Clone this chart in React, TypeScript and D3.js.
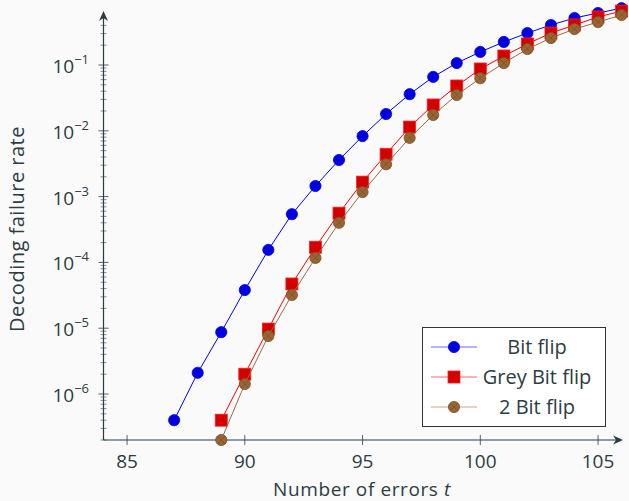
import React from 'react';
import * as d3 from 'd3';

// number of errors t for each series
const tBitFlip = [87, 88, 89, 90, 91, 92, 93, 94, 95, 96, 97, 98, 99, 100, 101, 102, 103, 104, 105, 106];
const tGrey = [89, 90, 91, 92, 93, 94, 95, 96, 97, 98, 99, 100, 101, 102, 103, 104, 105, 106];
const tTwoBit = [89, 90, 91, 92, 93, 94, 95, 96, 97, 98, 99, 100, 101, 102, 103, 104, 105, 106];

// decoding failure rates
const bitFlip = [4.0e-7, 2.1e-6, 8.7e-6, 3.8e-5, 1.55e-4, 5.4e-4, 1.45e-3, 3.6e-3, 8.3e-3, 1.8e-2, 3.6e-2, 6.6e-2, 0.107, 0.158, 0.224, 0.306, 0.405, 0.518, 0.617, 0.73];
const greyBitFlip = [4.0e-7, 2.0e-6, 9.7e-6, 4.7e-5, 1.7e-4, 5.6e-4, 1.66e-3, 4.4e-3, 1.14e-2, 2.47e-2, 4.8e-2, 8.7e-2, 0.137, 0.209, 0.306, 0.405, 0.537, 0.66];
const twoBitFlip = [2.0e-7, 1.42e-6, 7.6e-6, 3.2e-5, 1.17e-4, 4.0e-4, 1.17e-3, 3.1e-3, 7.8e-3, 1.74e-2, 3.5e-2, 6.3e-2, 0.107, 0.175, 0.257, 0.352, 0.45, 0.575];

const xTicks = [85, 90, 95, 100, 105];
const yMajor = [1e-6, 1e-5, 1e-4, 1e-3, 1e-2, 1e-1];
const yExponents = ['−6', '−5', '−4', '−3', '−2', '−1'];
const legendLabels = ['Bit flip', 'Grey Bit flip', '2 Bit flip'];

const W = 629;
const H = 501;
const ink = '#2b3d41';
const font = "'Open Sans', 'Noto Sans', sans-serif";

const x = d3.scaleLinear().domain([84, 106]).range([103.5, 621.6]);
const y = d3.scaleLog().domain([2e-7, 1e-1]).range([440, 65]);
const yAxisTop = 0.45;

const series = [
  { name: legendLabels[0], t: tBitFlip, v: bitFlip, line: '#0000ff', fill: '#0000dd', stroke: '#0000ff', mark: 'circle' },
  { name: legendLabels[1], t: tGrey, v: greyBitFlip, line: '#ff0000', fill: '#d40000', stroke: '#ff2020', mark: 'square' },
  { name: legendLabels[2], t: tTwoBit, v: twoBitFlip, line: '#9a6b3d', fill: '#996633', stroke: '#7a5129', mark: 'otimes' },
];

const Marker = ({ kind, cx, cy, fill, stroke }: any) => {
  if (kind === 'circle') {
    return <circle cx={cx} cy={cy} r={5.6} fill={fill} stroke={stroke} strokeWidth={0.8} />;
  }
  if (kind === 'square') {
    return <rect x={cx - 6} y={cy - 6} width={12} height={12} fill={fill} stroke={stroke} strokeWidth={0.8} />;
  }
  const d = 5.6 * Math.SQRT1_2;
  return (
    <g>
      <circle cx={cx} cy={cy} r={5.6} fill={fill} stroke={stroke} strokeWidth={0.8} />
      <path d={`M${cx - d},${cy - d}L${cx + d},${cy + d}M${cx - d},${cy + d}L${cx + d},${cy - d}`} stroke={stroke} strokeWidth={0.8} />
    </g>
  );
};

export default function App() {
  const x0 = x(84);
  const yBase = y(2e-7);
  const minorTicks = y.copy().domain([2e-7, yAxisTop]).ticks();
  const line = d3.line<[number, number]>().x(d => x(d[0])).y(d => y(d[1]));

  return (
    <svg width={W} height={H} style={{ position: 'absolute', left: 0, top: 0, fontFamily: font }}>
      <rect width={W} height={H} fill="#fafafa" />

      {/* y ticks */}
      {minorTicks.map((t, i) => {
        const major = yMajor.some(m => Math.abs(m - t) / m < 1e-6);
        const len = major ? 5 : 3;
        return (
          <line key={i} x1={x0 - len} x2={x0 + len} y1={y(t)} y2={y(t)}
            stroke={ink} strokeOpacity={major ? 1 : 0.7} strokeWidth={0.8} />
        );
      })}
      {yMajor.map((t, i) => (
        <text key={i} x={89} y={y(t) + 8} textAnchor="end" fill={ink} fontSize={19}>
          10<tspan dy={-9} fontSize={13}>{yExponents[i]}</tspan>
        </text>
      ))}

      {/* x ticks */}
      {xTicks.map(t => (
        <g key={t}>
          <line x1={x(t)} x2={x(t)} y1={yBase - 5} y2={yBase + 5} stroke={ink} strokeWidth={0.8} />
          <text x={x(t)} y={468} textAnchor="middle" fill={ink} fontSize={19}>{t}</text>
        </g>
      ))}

      {/* axis lines with arrows */}
      <line x1={x0} x2={x0} y1={yBase} y2={15} stroke={ink} strokeWidth={1.2} />
      <path d={`M${x0},11 L${x0 - 4.5},21 L${x0},18 L${x0 + 4.5},21 Z`} fill={ink} />
      <line x1={x0} x2={619} y1={yBase} y2={yBase} stroke={ink} strokeWidth={1.2} />
      <path d={`M623,${yBase} L613,${yBase - 4.5} L616,${yBase} L613,${yBase + 4.5} Z`} fill={ink} />

      {/* series */}
      {series.map(s => {
        const pts = s.t.map((t, i) => [t, s.v[i]] as [number, number]);
        return (
          <g key={s.name}>
            <path d={line(pts) || ''} fill="none" stroke={s.line} strokeWidth={1} />
            {pts.map((p, i) => (
              <Marker key={i} kind={s.mark} cx={x(p[0])} cy={y(p[1])} fill={s.fill} stroke={s.stroke} />
            ))}
          </g>
        );
      })}

      {/* legend */}
      <g>
        <rect x={422.5} y={327.5} width={183} height={99} fill="#ffffff" stroke="#333" strokeWidth={1} />
        {series.map((s, i) => {
          const cy = 347 + i * 30;
          return (
            <g key={s.name}>
              <line x1={431} x2={477} y1={cy} y2={cy} stroke={s.line} strokeOpacity={0.6} strokeWidth={1} />
              <Marker kind={s.mark} cx={454} cy={cy} fill={s.fill} stroke={s.stroke} />
              <text x={537} y={cy + 7} textAnchor="middle" fill={ink} fontSize={20}>{s.name}</text>
            </g>
          );
        })}
      </g>

      {/* axis labels */}
      <text x={362} y={496} textAnchor="middle" fill={ink} fontSize={19} letterSpacing={0.6}>
        Number of errors <tspan fontStyle="italic">t</tspan>
      </text>
      <text transform="translate(24,229) rotate(-90)" textAnchor="middle" fill={ink} fontSize={20} letterSpacing={0.5}>
        Decoding failure rate
      </text>
    </svg>
  );
}
